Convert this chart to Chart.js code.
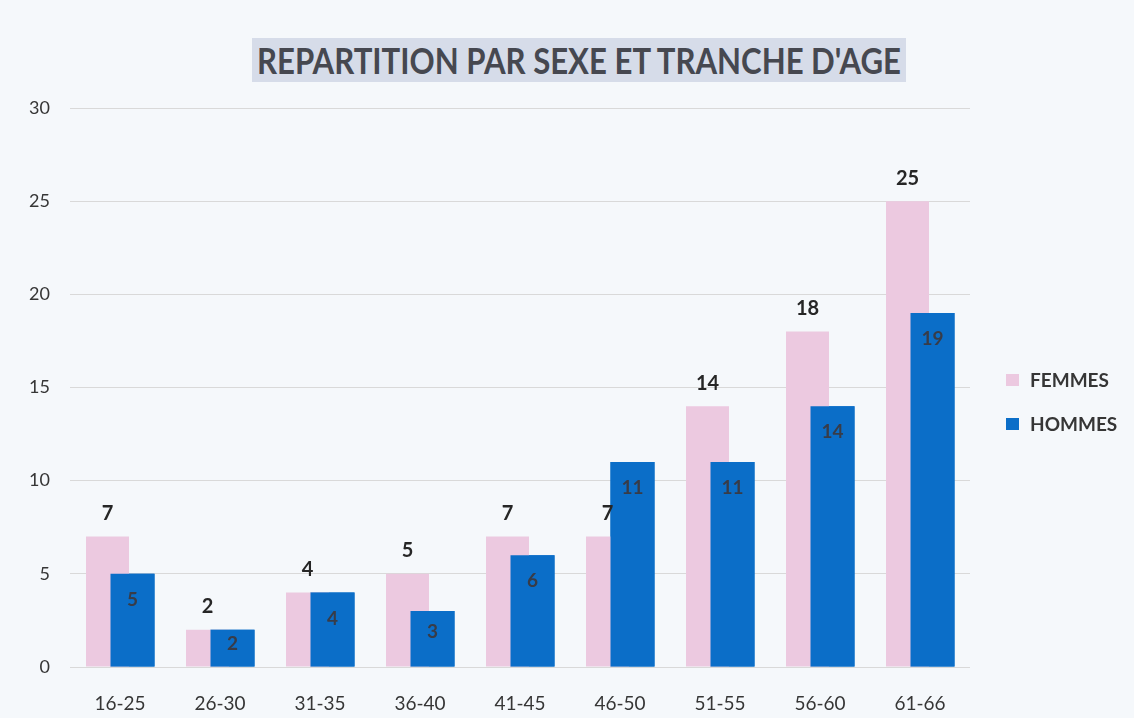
<!DOCTYPE html>
<html>
<head>
<meta charset="utf-8">
<script src="https://cdn.jsdelivr.net/npm/chart.js@4.4.1/dist/chart.umd.min.js"></script>
<style>
  html, body { margin: 0; padding: 0; background: #f5f8fb; }
  #wrap { position: relative; width: 1134px; height: 718px; }
  #title {
    position: absolute; left: 252px; top: 38px; width: 654px; height: 44px;
    background: #d6dce9; overflow: hidden;
  }
  #title span {
    position: absolute; left: 50%; top: 0;
    color: #464850;
    font: bold 36px Lato, "Open Sans", sans-serif;
    line-height: 44px; white-space: nowrap;
    transform: translateX(-50%) scaleX(0.865); transform-origin: center;
  }
</style>
</head>
<body>
<div id="wrap">
  <canvas id="chart" width="1134" height="718"></canvas>
  <div id="title"><span>REPARTITION PAR SEXE ET TRANCHE D'AGE</span></div>
</div>
<script>
// Data
const ageGroups = ['16-25', '26-30', '31-35', '36-40', '41-45', '46-50', '51-55', '56-60', '61-66'];
const femmes = [7, 2, 4, 5, 7, 7, 14, 18, 25];
const hommes = [5, 2, 4, 3, 6, 11, 11, 14, 19];
const yTicks = [0, 5, 10, 15, 20, 25, 30];

const pink = '#ecc9e0';
const blue = '#0b6ec8';
const textColor = '#363636';

// redraw HOMMES on top of FEMMES, then value labels and legend
const overlayPlugin = {
    id: 'overlay',
    afterDatasetsDraw(chart) {
        const ctx = chart.ctx;
        chart.getDatasetMeta(1).controller.draw();

        ctx.save();
        ctx.textAlign = 'center';
        ctx.textBaseline = 'middle';

        // FEMMES labels above bars
        ctx.font = 'bold 20px Lato, "Open Sans", sans-serif';
        ctx.fillStyle = '#262626';
        chart.getDatasetMeta(0).data.forEach((bar, i) => {
            ctx.fillText(femmes[i], bar.x, bar.y - 23);
        });

        // HOMMES labels inside bars
        ctx.font = 'bold 19px Lato, "Open Sans", sans-serif';
        ctx.fillStyle = '#383c48';
        chart.getDatasetMeta(1).data.forEach((bar, i) => {
            const h = bar.base - bar.y;
            ctx.fillText(hommes[i], bar.x, bar.y + Math.min(26, h * 0.38));
        });

        // legend
        const items = chart.data.datasets;
        ctx.textAlign = 'left';
        ctx.font = 'bold 19px Lato, "Open Sans", sans-serif';
        items.forEach((ds, k) => {
            const y = 380 + k * 44;
            ctx.fillStyle = ds.backgroundColor;
            ctx.fillRect(1006, y - 6, 13, 12);
            ctx.fillStyle = textColor;
            ctx.fillText(ds.label, 1030, y + 1);
        });
        ctx.restore();
    }
};

function createChart() {
    const ctx = document.getElementById('chart').getContext('2d');
    new Chart(ctx, {
        type: 'bar',
        data: {
            labels: ageGroups,
            datasets: [{
                label: 'FEMMES',
                data: femmes,
                backgroundColor: pink,
                borderWidth: 0,
                categoryPercentage: 0.5,
                barPercentage: 1.72
            }, {
                label: 'HOMMES',
                data: hommes,
                backgroundColor: blue,
                borderWidth: 0,
                categoryPercentage: 0.5,
                barPercentage: 1.76
            }]
        },
        options: {
            responsive: false,
            animation: false,
            layout: {
                padding: { top: 108, right: 164, bottom: 0, left: 0 }
            },
            plugins: {
                legend: { display: false },
                title: { display: false },
                tooltip: { enabled: false }
            },
            scales: {
                y: {
                    min: 0,
                    max: 30,
                    afterBuildTicks: scale => {
                        scale.ticks = yTicks.map(v => ({ value: v }));
                    },
                    afterFit: scale => { scale.width = 70; },
                    border: { display: false },
                    grid: { color: '#d9d9d9', drawTicks: false, lineWidth: 1 },
                    ticks: {
                        color: textColor,
                        padding: 20,
                        font: { family: 'Lato, "Open Sans", sans-serif', size: 18 }
                    }
                },
                x: {
                    afterFit: scale => { scale.height = 51; },
                    border: { display: false },
                    grid: { display: false },
                    ticks: {
                        color: textColor,
                        padding: 17,
                        font: { family: 'Lato, "Open Sans", sans-serif', size: 19 }
                    }
                }
            }
        },
        plugins: [overlayPlugin]
    });
}

createChart();
</script>
</body>
</html>
